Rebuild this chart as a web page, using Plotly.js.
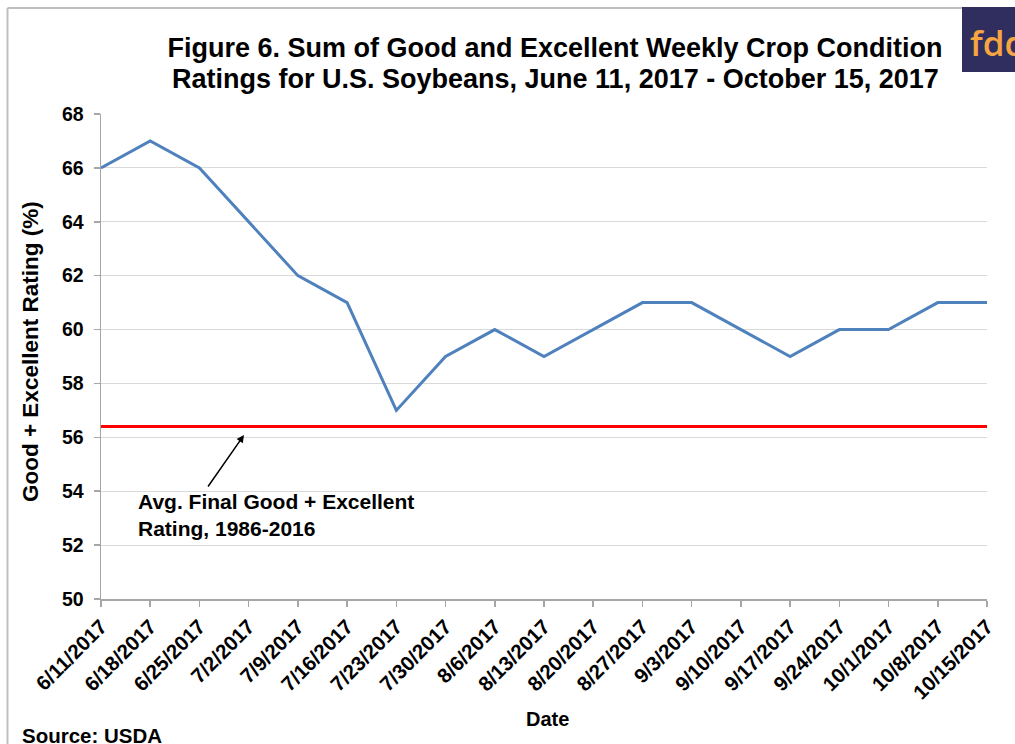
<!DOCTYPE html>
<html>
<head>
<meta charset="utf-8">
<script src="https://cdn.plot.ly/plotly-3.0.1.min.js"></script>
<style>
html,body{margin:0;padding:0;background:#fff;}
#chart{width:1015px;height:744px;}
</style>
</head>
<body>
<div id="chart"></div>
<script>
// Data
const dates = ["6/11/2017","6/18/2017","6/25/2017","7/2/2017","7/9/2017","7/16/2017","7/23/2017","7/30/2017","8/6/2017","8/13/2017","8/20/2017","8/27/2017","9/3/2017","9/10/2017","9/17/2017","9/24/2017","10/1/2017","10/8/2017","10/15/2017"];
const ratings = [66,67,66,64,62,61,57,59,60,59,60,61,61,60,59,60,60,61,61];
const avgFinalRating = 56.4;
const yTicks = [50,52,54,56,58,60,62,64,66,68];
const titleLine1 = 'Figure 6. Sum of Good and Excellent Weekly Crop Condition';
const titleLine2 = 'Ratings for U.S. Soybeans, June 11, 2017 - October 15, 2017';

const FONT = "Arial, 'Liberation Sans', sans-serif";

// plot area geometry in px (for paper conversions)
const L = 101, R = 28, T = 114, B = 145, W = 1015, H = 744;
const PW = W - L - R, PH = H - T - B;
const px = v => (v - L) / PW;
const py = v => (H - B - v) / PH;

const traces = [
  {
    x: dates, y: ratings, type: 'scatter', mode: 'lines',
    line: {color: '#4f81bd', width: 3}, hoverinfo: 'x+y', showlegend: false
  },
  {
    x: dates, y: dates.map(() => avgFinalRating), type: 'scatter', mode: 'lines',
    line: {color: '#ff0000', width: 3}, hoverinfo: 'y', showlegend: false
  }
];

const layout = {
  width: W, height: H,
  margin: {l: L, r: R, t: T, b: B},
  paper_bgcolor: '#fff', plot_bgcolor: '#fff',
  font: {family: FONT, color: '#000', size: 19, weight: 'bold'},
  title: {
    text: titleLine1,
    font: {family: FONT, size: 27, color: '#000', weight: 'bold'},
    xref: 'container', x: 555 / W, xanchor: 'center',
    yref: 'container', y: 1 - 48 / H, yanchor: 'middle'
  },
  xaxis: {
    type: 'category', range: [0, dates.length - 1],
    tickangle: -45, tickfont: {family: FONT, size: 20.5, weight: 'bold'},
    showgrid: false, zeroline: false,
    showline: true, linecolor: '#a6a6a6', linewidth: 1.5,
    ticks: 'outside', ticklen: 6, tickcolor: '#a6a6a6', tickwidth: 1.5,
    automargin: false
  },
  yaxis: {
    range: [50, 68], tickvals: yTicks, ticktext: yTicks.map(String),
    tickfont: {family: FONT, size: 19.5, weight: 'bold'},
    ticklabelstandoff: 6,
    showgrid: true, gridcolor: '#d9d9d9', gridwidth: 1, zeroline: false,
    showline: true, linecolor: '#a6a6a6', linewidth: 1.5,
    ticks: 'outside', ticklen: 6, tickcolor: '#a6a6a6', tickwidth: 1.5,
    automargin: false
  },
  shapes: [
    // outer frame (top and left edges visible)
    {type: 'line', xref: 'paper', yref: 'paper', x0: px(7.5), x1: px(962), y0: py(8), y1: py(8),
     line: {color: '#bfbfbf', width: 2}},
    {type: 'line', xref: 'paper', yref: 'paper', x0: px(7.5), x1: px(7.5), y0: py(8), y1: py(744),
     line: {color: '#bfbfbf', width: 2}},
    // logo box
    {type: 'rect', xref: 'paper', yref: 'paper', x0: px(962), x1: px(1016), y0: py(7), y1: py(72),
     fillcolor: '#2f2e5f', line: {width: 0}}
  ],
  annotations: [
    {text: titleLine2, xref: 'paper', yref: 'paper', x: px(555), y: py(79),
     xanchor: 'center', yanchor: 'middle', showarrow: false,
     font: {family: FONT, size: 27, color: '#000', weight: 'bold'}},
    {text: 'fdd', xref: 'paper', yref: 'paper', x: px(968), y: py(42), xanchor: 'left', yanchor: 'middle',
     showarrow: false, font: {family: "'Open Sans', 'DejaVu Sans', sans-serif", size: 35, color: '#f7a541', weight: 600}},
    {text: 'Good + Excellent Rating (%)', xref: 'paper', yref: 'paper', x: px(30), y: py(352),
     xanchor: 'center', yanchor: 'middle', textangle: -90, showarrow: false,
     font: {family: FONT, size: 22.5, weight: 'bold'}},
    {text: 'Date', xref: 'paper', yref: 'paper', x: px(547), y: py(719),
     xanchor: 'center', yanchor: 'middle', showarrow: false,
     font: {family: FONT, size: 20, weight: 'bold'}},
    {text: 'Source: USDA', xref: 'paper', yref: 'paper', x: px(20), y: py(735),
     xanchor: 'left', yanchor: 'middle', showarrow: false,
     font: {family: FONT, size: 20.5, weight: 'bold'}},
    {text: 'Avg. Final Good + Excellent<br>Rating, 1986-2016', xref: 'paper', yref: 'paper',
     x: px(136), y: py(515), xanchor: 'left', yanchor: 'middle', align: 'left', showarrow: false,
     font: {family: FONT, size: 21, weight: 'bold'}},
    {text: '', xref: 'paper', yref: 'paper', x: px(244), y: py(435),
     showarrow: true, arrowhead: 2, arrowsize: 1, arrowwidth: 1.5, arrowcolor: '#000',
     ax: -37, ay: 53}
  ]
};

Plotly.newPlot('chart', traces, layout, {displayModeBar: false, staticPlot: true});
</script>
</body>
</html>
